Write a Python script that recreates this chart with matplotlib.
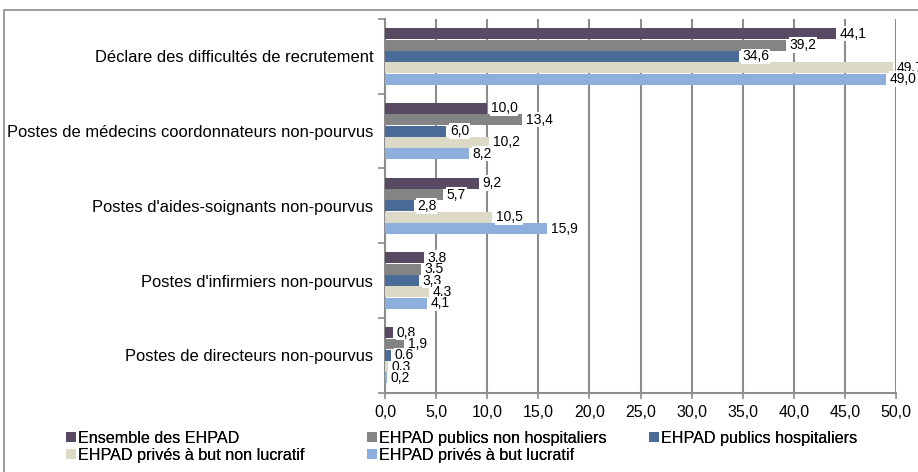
import matplotlib
matplotlib.use("Agg")
import matplotlib.pyplot as plt
import numpy as np
from matplotlib.patches import Rectangle

plt.rcParams['font.family'] = ['Liberation Sans', 'DejaVu Sans']

categories = [
    "Déclare des difficultés de recrutement",
    "Postes de médecins coordonnateurs non-pourvus",
    "Postes d'aides-soignants non-pourvus",
    "Postes d'infirmiers non-pourvus",
    "Postes de directeurs non-pourvus",
]
series_names = [
    "Ensemble des EHPAD",
    "EHPAD publics non hospitaliers",
    "EHPAD publics hospitaliers",
    "EHPAD privés à but non lucratif",
    "EHPAD privés à but lucratif",
]
ensemble = [44.1, 10.0, 9.2, 3.8, 0.8]
publics_non_hosp = [39.2, 13.4, 5.7, 3.5, 1.9]
publics_hosp = [34.6, 6.0, 2.8, 3.3, 0.6]
prives_non_lucratif = [49.7, 10.2, 10.5, 4.3, 0.3]
prives_lucratif = [49.0, 8.2, 15.9, 4.1, 0.2]
series = [ensemble, publics_non_hosp, publics_hosp, prives_non_lucratif, prives_lucratif]
colors = ["#584A63", "#848484", "#4A6B97", "#DCD9C6", "#8DAFDC"]
xticks = np.arange(0, 50.1, 5)

W, H = 918, 472
fig = plt.figure(figsize=(W / 100, H / 100), dpi=100)
fig.patch.set_facecolor("white")
# outer frame
fig.patches.append(Rectangle((4 / W, -0.1), 1.2, 1 - 10 / H + 0.1, transform=fig.transFigure,
                             fill=False, edgecolor="#8C8C8C", linewidth=1.2))

ax = fig.add_axes([385 / W, 1 - 392.7 / H, 511 / W, (392.7 - 19) / H])
h = 0.1516
y = np.arange(len(categories))
handles = []
for k, (vals, col, name) in enumerate(zip(series, colors, series_names)):
    pos = y + (k - 2) * h
    bars = ax.barh(pos, vals, height=h * 0.97, color=col, label=name, zorder=3)
    handles.append(bars)
    for p, v in zip(pos, vals):
        ax.text(v + 0.35, p, f"{v:.1f}".replace(".", ","), va="center", ha="left",
                fontsize=10, color="black", zorder=4,
                bbox=dict(boxstyle="square,pad=0.05", facecolor="white", edgecolor="none"))

ax.set_xlim(0, 50)
ax.set_ylim(4.5, -0.5)
ax.set_xticks(xticks)
ax.set_xticklabels([f"{t:.1f}".replace(".", ",") for t in xticks], fontsize=11.5)
ax.xaxis.grid(True, color="#8C8C8C", linewidth=1.5, zorder=0)
ax.set_yticks(np.arange(-0.5, 4.6, 1))
ax.set_yticklabels([])
ax.set_yticks(y, minor=True)
ax.set_yticklabels(categories, minor=True, fontsize=11.9)
ax.tick_params(axis="y", which="minor", length=0, pad=8.5)
ax.tick_params(axis="y", which="major", length=5, color="#8C8C8C", width=1.2)
ax.tick_params(axis="x", length=4, color="#8C8C8C", width=1.2, pad=5)
for s in ["top", "right"]:
    ax.spines[s].set_visible(False)
for s in ["left", "bottom"]:
    ax.spines[s].set_color("#8C8C8C")
    ax.spines[s].set_linewidth(1.5)

# legend laid out in three columns at fixed positions
columns = [(66, [0, 3]), (367, [1, 4]), (649, [2])]
for xpix, idx in columns:
    lg = fig.legend([handles[i] for i in idx], [series_names[i] for i in idx],
                    loc="upper left", bbox_to_anchor=(xpix / W, 1 - 431 / H),
                    frameon=False, fontsize=11.6, handlelength=0.6, handleheight=0.6,
                    handletextpad=0.15, labelspacing=0.12, borderaxespad=0, borderpad=0)
    fig.add_artist(lg)

fig.savefig("out.png", dpi=100)
